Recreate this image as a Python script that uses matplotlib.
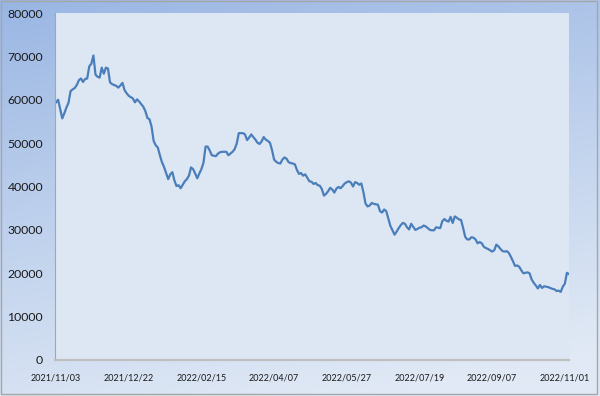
import numpy as np
import matplotlib
matplotlib.use("Agg")
import matplotlib.pyplot as plt
from matplotlib.patches import Rectangle

values_k = [
    59.4, 60.0, 57.8, 55.7, 56.9, 58.2, 59.3, 62.0, 62.4, 62.7,
    63.4, 64.5, 64.9, 64.1, 64.8, 64.9, 67.7, 68.3, 70.2, 65.8,
    65.3, 65.1, 67.4, 66.0, 67.4, 67.2, 64.0, 63.6, 63.4, 63.2,
    62.8, 63.3, 63.9, 62.2, 61.5, 60.9, 60.6, 60.3, 59.4, 60.1,
    59.6, 59.0, 58.4, 57.4, 55.8, 55.5, 53.8, 50.5, 49.5, 49.0,
    47.2, 45.6, 44.5, 43.1, 41.7, 42.8, 43.3, 41.4, 40.1, 40.3,
    39.6, 40.4, 41.2, 41.7, 42.5, 44.4, 44.0, 43.0, 41.9, 43.0,
    44.0, 45.5, 49.2, 49.2, 48.3, 47.2, 47.1, 47.0, 47.6, 47.9,
    48.0, 48.0, 48.0, 47.2, 47.6, 48.0, 48.6, 49.9, 52.3, 52.3,
    52.3, 52.0, 50.7, 51.3, 52.0, 51.4, 50.8, 50.1, 49.8, 50.4,
    51.4, 50.8, 50.5, 50.1, 48.4, 46.2, 45.7, 45.4, 45.3, 46.2,
    46.7, 46.4, 45.6, 45.4, 45.3, 45.1, 43.8, 42.9, 43.1, 42.5,
    42.8, 42.0, 41.2, 41.1, 40.6, 40.8, 40.3, 40.2, 39.4, 37.9,
    38.3, 38.9, 39.7, 39.3, 38.6, 39.5, 39.9, 39.6, 40.1, 40.7,
    41.0, 41.2, 40.9, 40.0, 41.0, 40.8, 40.4, 40.7, 38.7, 36.1,
    35.4, 35.6, 36.2, 36.0, 35.9, 35.8, 34.3, 34.0, 34.7, 34.3,
    32.6, 30.9, 29.9, 28.9, 29.6, 30.4, 31.1, 31.6, 31.4, 30.6,
    30.1, 31.4, 30.7, 30.0, 30.2, 30.5, 30.6, 31.0, 30.8, 30.4,
    30.0, 29.9, 29.9, 30.6, 30.5, 30.4, 32.0, 32.5, 32.1, 31.9,
    33.0, 31.6, 33.1, 32.8, 32.4, 32.3, 30.5, 28.4, 27.8, 27.8,
    28.3, 28.2, 27.8, 26.9, 27.2, 26.9, 26.1, 25.8, 25.6, 25.3,
    25.0, 25.3, 26.6, 26.2, 25.6, 25.1, 25.0, 25.1, 24.7, 23.8,
    22.8, 21.7, 21.8, 21.5, 20.7, 20.0, 20.1, 20.2, 20.0, 18.6,
    17.8, 17.2, 16.5, 17.3, 16.6, 17.0, 16.9, 16.8, 16.6, 16.4,
    16.3, 15.9, 16.0, 15.7, 16.9, 17.6, 20.1, 19.8,
]
values = [v * 1000 for v in values_k]

tick_labels = ["2021/11/03", "2021/12/22", "2022/02/15", "2022/04/07",
               "2022/05/27", "2022/07/19", "2022/09/07", "2022/11/01"]
tick_step = 35
y_ticks = [0, 10000, 20000, 30000, 40000, 50000, 60000, 70000, 80000]

W, H = 600, 396
fig = plt.figure(figsize=(W / 100, H / 100), dpi=100)

# background gradient
bg = fig.add_axes([0, 0, 1, 1], zorder=-10)
ny, nx = 200, 300
ty = np.linspace(0, 1, ny)[:, None]
tx = np.linspace(0, 1, nx)[None, :]
t = np.clip(0.85 * ty + 0.25 * tx, 0, 1) ** 0.9
c_top = np.array([152, 181, 227]) / 255
c_bot = np.array([224, 233, 245]) / 255
img = c_top[None, None, :] * (1 - t[..., None]) + c_bot[None, None, :] * t[..., None]
bg.imshow(img, aspect="auto", extent=[0, 1, 0, 1], origin="upper")
bg.set_axis_off()
fig.patches.append(Rectangle((0.5 / W, 2.5 / H), 1 - 3.5 / W, 1 - 3.5 / H,
                             transform=fig.transFigure, fill=False,
                             edgecolor="#a6a6a6", linewidth=1.0, zorder=5))

ax = fig.add_axes([55 / W, 1 - 360 / H, (569 - 55) / W, (360 - 13) / H])
ax.set_facecolor("#dde7f3")
x = np.arange(len(values))
ax.plot(x, values, color="#4a7ebb", linewidth=1.6, solid_joinstyle="round")
ax.set_xlim(-0.5, len(values) - 1)
ax.set_ylim(0, 80000)
ax.set_yticks(y_ticks)
ax.set_yticklabels([str(v) for v in y_ticks], fontsize=8.8, fontfamily="Lato",
                   color="#1a1a1a")
ax.set_xticks([i * tick_step for i in range(len(tick_labels))])
ax.set_xticklabels(tick_labels, fontsize=6.5, fontfamily="Lato", color="#1a1a1a")
ax.tick_params(axis="y", length=0, pad=8.6)
ax.tick_params(axis="x", length=0, pad=9.5)
for s in ["top", "right"]:
    ax.spines[s].set_visible(False)
ax.spines["left"].set_color("#a6a6a6")
ax.spines["left"].set_linewidth(0.8)
ax.spines["bottom"].set_color("#bfbfbf")
ax.spines["bottom"].set_linewidth(1.6)

fig.savefig("out.png", dpi=100)
